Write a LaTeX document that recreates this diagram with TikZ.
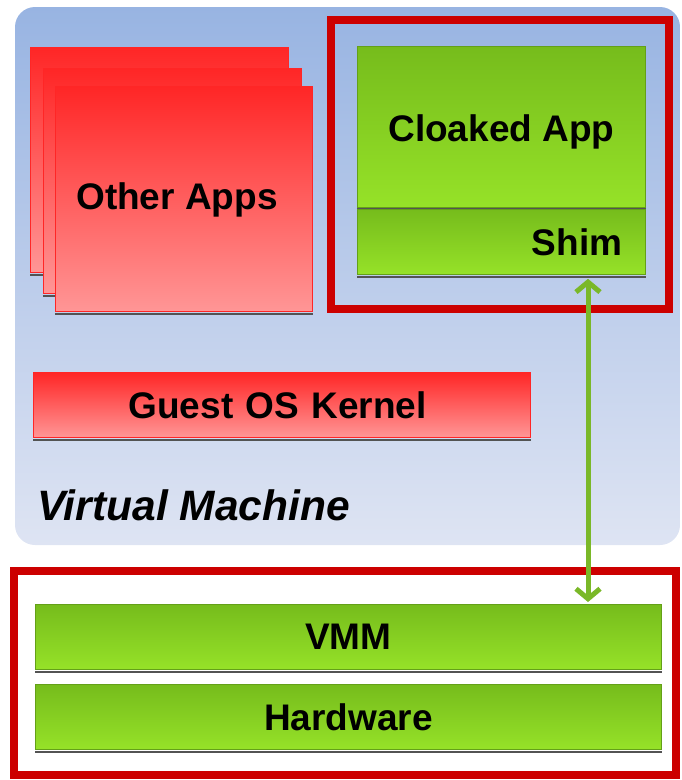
\documentclass[tikz,border=0pt]{standalone}
\usepackage{fontspec}
\setmainfont{Liberation Sans}
\usetikzlibrary{arrows.meta}

\definecolor{vmtop}{RGB}{152,180,226}
\definecolor{vmbot}{RGB}{222,228,243}
\definecolor{apptop}{RGB}{255,38,38}
\definecolor{appbot}{RGB}{255,150,150}
\definecolor{grntop}{RGB}{118,188,28}
\definecolor{grnbot}{RGB}{150,226,40}
\definecolor{framered}{RGB}{204,0,0}
\definecolor{linkgreen}{RGB}{122,184,40}

\tikzset{
 bigtext/.style={font=\fontsize{37}{40}\selectfont\bfseries},
 redapp/.style={draw=red!85!white, line width=1pt, top color=apptop, bottom color=appbot,
   inner sep=0pt, anchor=north west, bigtext},
 greenbox/.style={draw=grntop!85!black, line width=0.8pt, top color=grntop, bottom color=grnbot,
   inner sep=0pt, anchor=north west, bigtext},
 shade line/.style={gray!65!black, line width=2.5pt},
 trust/.style={framered, line width=8pt},
 link/.style={linkgreen, line width=5pt, line cap=round,
   {Straight Barb[length=10pt,width=24pt]}-{Straight Barb[length=10pt,width=24pt]}}
}

\begin{document}
\begin{tikzpicture}[x=1pt,y=-1pt]
 \useasboundingbox (0,0) rectangle (681,780);

 % virtual machine background
 \shade[top color=vmtop, bottom color=vmbot, rounded corners=20pt] (15,7) rectangle (680,545);
 \node[font=\fontsize{42.5}{45}\selectfont\bfseries\itshape, inner sep=0pt, anchor=base west] (vmlabel) at (37,520) {Virtual Machine};

 % stack of other apps
 \node[redapp, minimum width=258pt, minimum height=225pt] (app1) at (30,47) {};
 \draw[shade line] ([yshift=-2pt]app1.south west) -- ([yshift=-2pt]app1.south east);
 \node[redapp, minimum width=258pt, minimum height=225pt] (app2) at (43,68) {};
 \draw[shade line] ([yshift=-2pt]app2.south west) -- ([yshift=-2pt]app2.south east);
 \node[redapp, minimum width=257pt, minimum height=225pt] (app3) at (55,86) {};
 \draw[shade line] ([yshift=-2pt]app3.south west) -- ([yshift=-2pt]app3.south east);
 \node[bigtext] (applabel) at (177,200) {Other Apps};

 % guest kernel
 \node[redapp, minimum width=497pt, minimum height=65pt, text width=307pt, align=left] (kernel) at (33,372) {Guest OS Kernel};
 \draw[shade line] ([yshift=-2pt]kernel.south west) -- ([yshift=-2pt]kernel.south east);

 % cloaked application and its shim
 \draw[trust] (331,20) rectangle (669,309);
 \node[greenbox, minimum width=288pt, minimum height=161pt, text depth=0pt, text height=30pt] (cloaked) at (357,46) {Cloaked App};
 \draw[shade line] ([yshift=-1pt]cloaked.south west) -- ([yshift=-1pt]cloaked.south east);
 \node[greenbox, minimum width=288pt, minimum height=65pt, text width=242pt, align=right] (shim) at (357,209) {Shim};
 \draw[shade line] ([yshift=-2pt]shim.south west) -- ([yshift=-2pt]shim.south east);

 % trusted layer
 \draw[trust] (14,571) rectangle (676,775);
 \node[greenbox, minimum width=626pt, minimum height=65pt] (vmm) at (35,604) {VMM};
 \draw[shade line] ([yshift=-2pt]vmm.south west) -- ([yshift=-2pt]vmm.south east);
 \node[greenbox, minimum width=626pt, minimum height=65pt] (hw) at (35,684) {Hardware};
 \draw[shade line] ([yshift=-2pt]hw.south west) -- ([yshift=-2pt]hw.south east);

 % shim talks to the VMM
 \coordinate (lnk) at (588,0);
 \draw[link] ([yshift=-4pt]shim.south -| lnk) -- ([yshift=2pt]vmm.north -| lnk);

\end{tikzpicture}
\end{document}
